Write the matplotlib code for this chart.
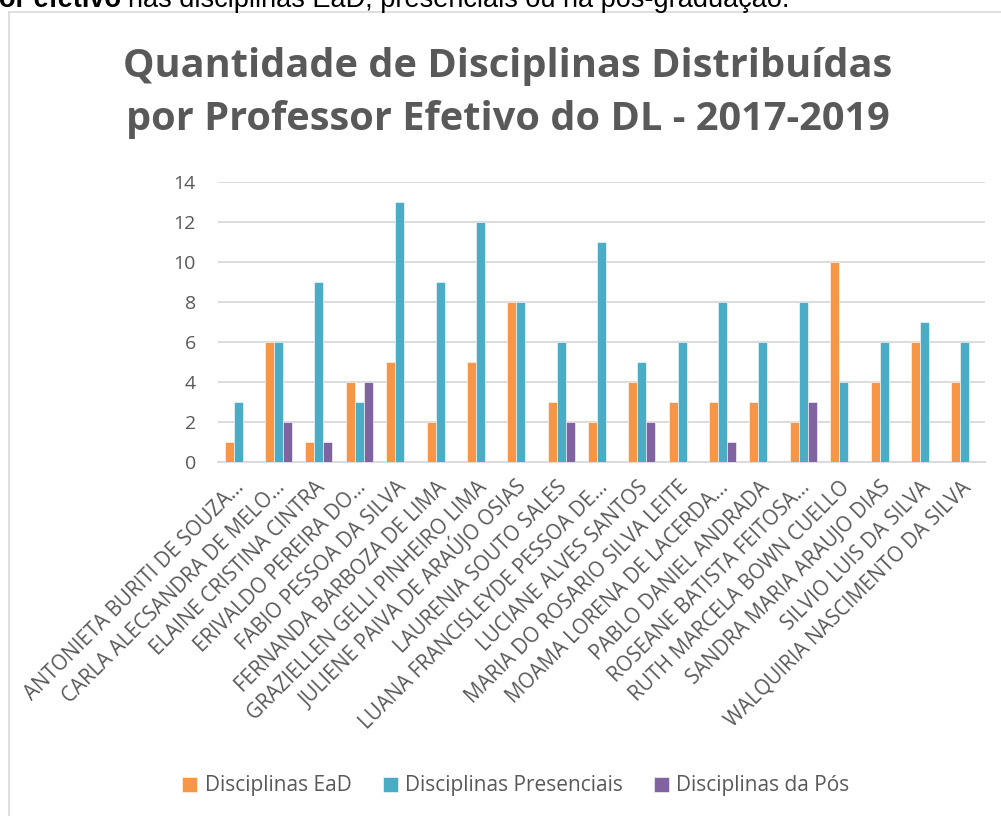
import numpy as np
import matplotlib
matplotlib.use("Agg")
import matplotlib.pyplot as plt
import matplotlib.transforms as mtransforms

# data
professores = [
    "ANTONIETA BURITI DE SOUZA…",
    "CARLA ALECSANDRA DE MELO…",
    "ELAINE CRISTINA CINTRA",
    "ERIVALDO PEREIRA DO…",
    "FABIO PESSOA DA SILVA",
    "FERNANDA BARBOZA DE LIMA",
    "GRAZIELLEN GELLI PINHEIRO LIMA",
    "JULIENE PAIVA DE ARAÚJO OSIAS",
    "LAURENIA SOUTO SALES",
    "LUANA FRANCISLEYDE PESSOA DE…",
    "LUCIANE ALVES SANTOS",
    "MARIA DO ROSARIO SILVA LEITE",
    "MOAMA LORENA DE LACERDA…",
    "PABLO DANIEL ANDRADA",
    "ROSEANE BATISTA FEITOSA…",
    "RUTH MARCELA BOWN CUELLO",
    "SANDRA MARIA ARAUJO DIAS",
    "SILVIO LUIS DA SILVA",
    "WALQUIRIA NASCIMENTO DA SILVA",
]
ead = [1, 6, 1, 4, 5, 2, 5, 8, 3, 2, 4, 3, 3, 3, 2, 10, 4, 6, 4]
presenciais = [3, 6, 9, 3, 13, 9, 12, 8, 6, 11, 5, 6, 8, 6, 8, 4, 6, 7, 6]
pos = [0, 2, 1, 4, 0, 0, 0, 0, 2, 0, 2, 0, 1, 0, 3, 0, 0, 0, 0]
series_names = ["Disciplinas EaD", "Disciplinas Presenciais", "Disciplinas da Pós"]
yticks = [0, 2, 4, 6, 8, 10, 12, 14]
titulo = ["Quantidade de Disciplinas Distribuídas",
          "por Professor Efetivo do DL - 2017-2019"]

cores = ["#F79646", "#4BACC6", "#8064A2"]
cinza = "#595959"
font = "Open Sans"

W, H = 1001, 816
fig = plt.figure(figsize=(W / 100, H / 100), dpi=100)
fig.patch.set_facecolor("white")

# chart frame (only top and left edges are visible in the crop)
fig.add_artist(plt.Line2D([9 / W, 9 / W], [0, 1 - 12 / H], color="#d9d9d9", lw=1.2))
fig.add_artist(plt.Line2D([9 / W, 1], [1 - 12 / H, 1 - 12 / H], color="#d9d9d9", lw=1.2))

# cropped line of document text above the chart
fig.text(121 / W, 1 - 7 / H, "or efetivo", ha="right", va="baseline",
         fontsize=19.5, fontweight="bold", family="Liberation Sans", color="black")
fig.text(128 / W, 1 - 7 / H, "nas disciplinas EaD, presenciais ou na pós-graduação.",
         ha="left", va="baseline", fontsize=19.5, family="Liberation Sans", color="black")

ax = fig.add_axes([218 / W, 1 - 462 / H, 767 / W, 280 / H])
x = np.arange(len(professores))
w = 0.223
bars = []
for k, vals in enumerate([ead, presenciais, pos]):
    b = ax.bar(x + (k - 1) * w, vals, w, color=cores[k], edgecolor="white",
               linewidth=0.4, label=series_names[k], zorder=3)
    bars.append(b)

ax.set_xlim(-0.5, len(professores) - 0.5)
ax.set_ylim(0, 14)
ax.set_yticks(yticks)
ax.yaxis.grid(True, color="#d9d9d9", lw=1.3, zorder=0)
ax.set_axisbelow(True)
for s in ["top", "right", "left"]:
    ax.spines[s].set_visible(False)
ax.spines["bottom"].set_color("#d9d9d9")
ax.spines["bottom"].set_linewidth(1.3)
ax.tick_params(axis="y", length=0, pad=16, labelsize=14, labelcolor=cinza)
ax.tick_params(axis="x", length=0, pad=19, labelsize=14.8, labelcolor=cinza)
for lab in ax.get_yticklabels():
    lab.set_family(font)

ax.set_xticks(x)
ax.set_xticklabels(professores, family=font)
shift = mtransforms.ScaledTranslation(7 / 100, 0, fig.dpi_scale_trans)
for lab in ax.get_xticklabels():
    lab.set_rotation(45)
    lab.set_ha("right")
    lab.set_va("baseline")
    lab.set_rotation_mode("anchor")
    lab.set_transform(lab.get_transform() + shift)

for i, linha in enumerate(titulo):
    fig.text(508 / W, 1 - (77 + 53 * i) / H, linha, ha="center", va="baseline",
             fontsize=28.6, fontweight="bold", family=font, color=cinza)

leg = fig.legend(handles=bars, labels=series_names, loc="center",
                 bbox_to_anchor=(516 / W, 1 - 786 / H), ncol=3, frameon=False,
                 fontsize=15, handlelength=0.72, handleheight=0.72,
                 handletextpad=0.35, columnspacing=1.5)
for t in leg.get_texts():
    t.set_color(cinza)
    t.set_family(font)

fig.savefig("out.png", dpi=100)
